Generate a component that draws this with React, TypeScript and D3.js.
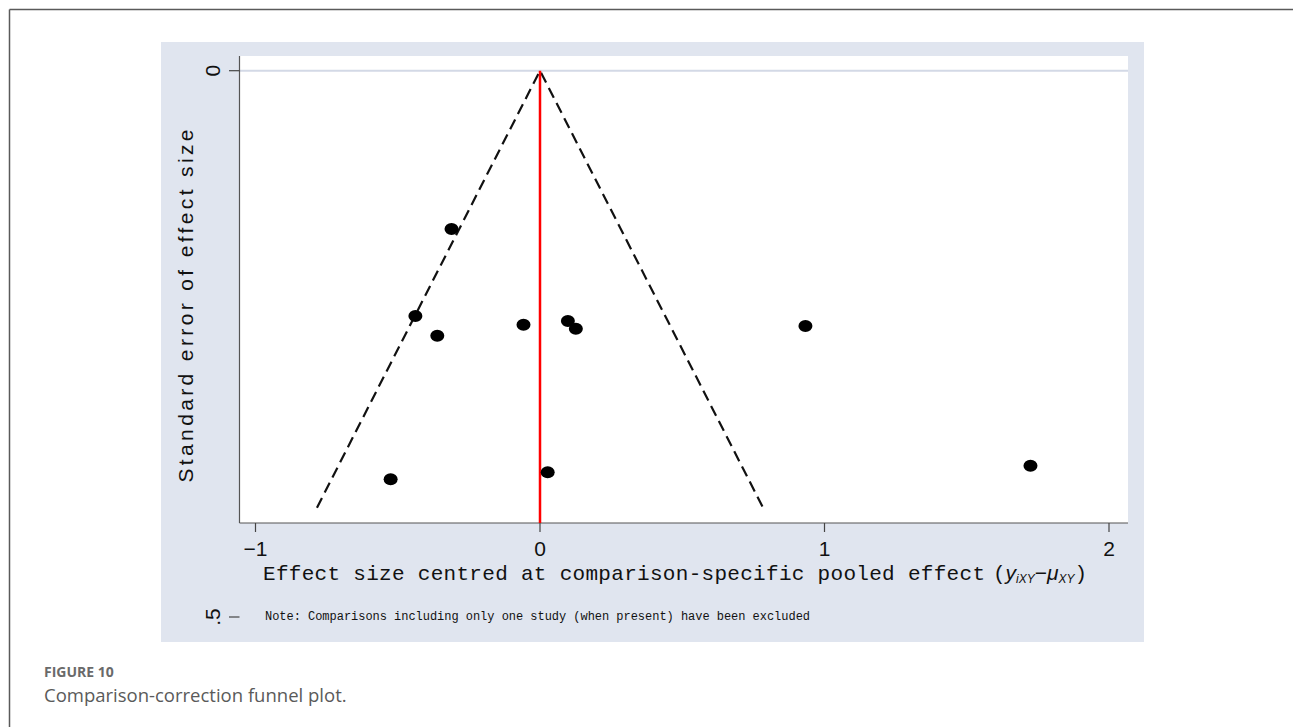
import React from "react";
import * as d3 from "d3";

const effectSize = [-0.311, -0.438, -0.361, -0.058, 0.098, 0.126, 0.933, -0.525, 0.027, 1.724];
const stdError = [0.1449, 0.2245, 0.2425, 0.2325, 0.2291, 0.2361, 0.2337, 0.374, 0.3676, 0.3615];
const xTicks = [-1, 0, 1, 2];
const xTickLabels = ["\u22121", "0", "1", "2"];
const yTicks = [0, 0.5];
const yTickLabels = ["0", ".5"];
const funnelMaxSE = 0.4;

export default function App() {
  const W = 1293, H = 727;
  const plotL = 239.5, plotR = 1128, plotT = 56, plotB = 523;
  const x = d3.scaleLinear().domain([-1, 2]).range([255.5, 1109]);
  const y = d3.scaleLinear().domain([0, 0.5]).range([70.7, 617]);
  const line = d3.line<[number, number]>().x(d => x(d[0])).y(d => y(d[1]));
  const funnel: [number, number][] = [
    [-1.96 * funnelMaxSE, funnelMaxSE],
    [0, 0],
    [1.96 * funnelMaxSE, funnelMaxSE],
  ];
  const mono = "'Liberation Mono', 'DejaVu Sans Mono', monospace";
  const sans = "'Liberation Sans', Arial, sans-serif";
  return (
    <svg width={W} height={H} style={{ position: "absolute", left: 0, top: 0, background: "#fff" }}>
      {/* outer frame */}
      <line x1={9.5} y1={9.5} x2={W} y2={9.5} stroke="#5a5a5a" strokeWidth={1.5} />
      <line x1={9.5} y1={9.5} x2={9.5} y2={H} stroke="#5a5a5a" strokeWidth={1.5} />
      {/* panel */}
      <rect x={161} y={42} width={983} height={600} fill="#e0e5ef" />
      <rect x={plotL} y={plotT} width={plotR - plotL} height={plotB - plotT} fill="#ffffff" />
      {/* gridline at 0 */}
      <line x1={plotL} x2={plotR} y1={y(0)} y2={y(0)} stroke="#d3d9e6" strokeWidth={2} />
      {/* axes */}
      <line x1={plotL} x2={plotL} y1={plotT} y2={plotB} stroke="#555" strokeWidth={1.2} />
      <line x1={plotL} x2={plotR} y1={plotB} y2={plotB} stroke="#555" strokeWidth={1.2} />
      {/* y ticks */}
      {yTicks.map((t, i) => (
        <g key={"yt" + i}>
          <line x1={229} x2={plotL} y1={y(t)} y2={y(t)} stroke="#444" strokeWidth={1.2} />
          <text transform={`translate(220,${y(t)}) rotate(-90)`} textAnchor="middle" fontFamily={sans} fontSize={21} fill="#111">
            {yTickLabels[i]}
          </text>
        </g>
      ))}
      {/* x ticks */}
      {xTicks.map((t, i) => (
        <g key={"xt" + i}>
          <line x1={x(t)} x2={x(t)} y1={plotB} y2={plotB + 9} stroke="#444" strokeWidth={1.2} />
          <text x={x(t)} y={556} textAnchor="middle" fontFamily={sans} fontSize={21} fill="#111">
            {xTickLabels[i]}
          </text>
        </g>
      ))}
      {/* y title */}
      <text transform={`translate(193,306) rotate(-90)`} textAnchor="middle" fontFamily={sans} fontSize={21} fill="#111" textLength={353} lengthAdjust="spacing">
        Standard error of effect size
      </text>
      {/* x title */}
      <text x={263} y={580} fontFamily={mono} fontSize={21} fill="#111">
        <tspan textLength={722} lengthAdjust="spacing">Effect size centred at comparison-specific pooled effect</tspan>
        <tspan x={993}>(</tspan>
        <tspan fontStyle="italic" fontFamily={sans}>y</tspan>
        <tspan fontStyle="italic" fontFamily={sans} fontSize={12} dy={3}>iXY</tspan>
        <tspan fontFamily={sans} dy={-3}>{"\u2212"}</tspan>
        <tspan fontStyle="italic" fontFamily={sans}>{"\u03bc"}</tspan>
        <tspan fontStyle="italic" fontFamily={sans} fontSize={12} dy={3}>XY</tspan>
        <tspan dy={-3}>)</tspan>
      </text>
      {/* note */}
      <text x={265} y={620} fontFamily={mono} fontSize={12} fill="#111" textLength={545} lengthAdjust="spacing">
        Note: Comparisons including only one study (when present) have been excluded
      </text>
      {/* funnel */}
      <path d={line(funnel) || ""} fill="none" stroke="#111" strokeWidth={2.2} strokeDasharray="11,6" />
      {/* red reference line */}
      <line x1={x(0)} x2={x(0)} y1={y(0)} y2={plotB} stroke="#ff0000" strokeWidth={2.5} />
      {/* points */}
      {effectSize.map((v, i) => (
        <ellipse key={"p" + i} cx={x(v)} cy={y(stdError[i])} rx={7} ry={6} fill="#000" />
      ))}
      {/* caption */}
      <text x={44} y={677} fontFamily="'Open Sans', sans-serif" fontWeight="bold" fontSize={14} fill="#6a6a6a">FIGURE 10</text>
      <text x={44} y={702} fontFamily="'Open Sans', sans-serif" fontSize={18.5} fill="#5a5a5a">Comparison-correction funnel plot.</text>
    </svg>
  );
}
